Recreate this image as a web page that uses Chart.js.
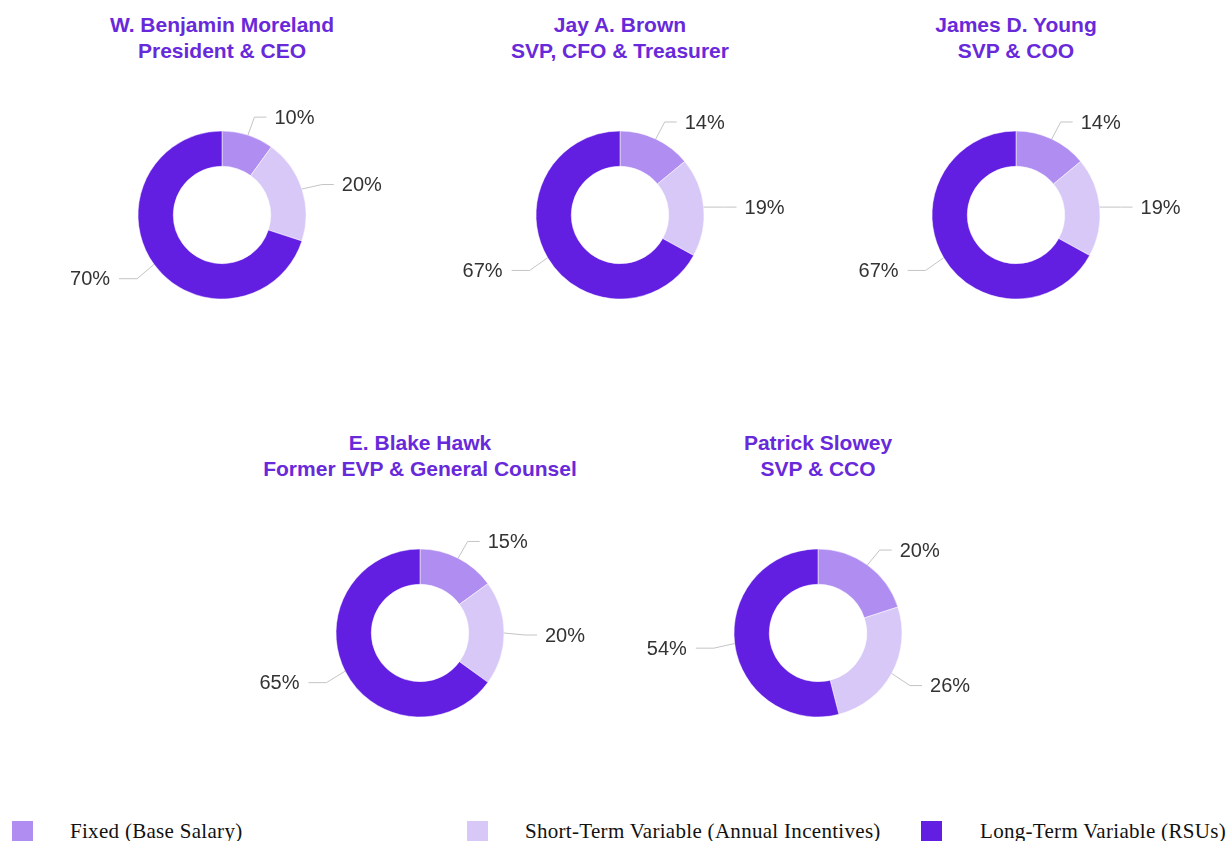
<!DOCTYPE html>
<html>
<head>
<meta charset="utf-8">
<script src="https://cdn.jsdelivr.net/npm/chart.js@4.4.1/dist/chart.umd.min.js"></script>
<style>
    html, body { margin: 0; padding: 0; background: #fff; }
    body { width: 1232px; height: 841px; position: relative; overflow: hidden; }
    .title {
        position: absolute; width: 420px; text-align: center;
        font-family: "Liberation Sans", Arial, sans-serif; font-weight: bold;
        font-size: 21px; line-height: 26px; color: #6829da;
    }
    canvas { position: absolute; }
    .legend-box { position: absolute; width: 21px; height: 21px; top: 821px; }
    .legend-text {
        position: absolute; top: 819px; white-space: nowrap; letter-spacing: 0.3px;
        font-family: "Liberation Serif", "Times New Roman", serif; font-size: 21px; color: #111;
    }
</style>
</head>
<body>
<script>
// Data
const categories = ['Fixed (Base Salary)', 'Short-Term Variable (Annual Incentives)', 'Long-Term Variable (RSUs)'];
const executives = ['W. Benjamin Moreland', 'Jay A. Brown', 'James D. Young', 'E. Blake Hawk', 'Patrick Slowey'];
const roles = ['President & CEO', 'SVP, CFO & Treasurer', 'SVP & COO', 'Former EVP & General Counsel', 'SVP & CCO'];
const fixedPct = [10, 14, 14, 15, 20];
const shortTermPct = [20, 19, 19, 20, 26];
const longTermPct = [70, 67, 67, 65, 54];

const colors = ['#b08ef1', '#d7c8f7', '#621fe1'];

// chart centres on the page
const layout = [
    { x: 222, y: 215 }, { x: 620, y: 215 }, { x: 1016, y: 215 },
    { x: 420, y: 633 }, { x: 818, y: 633 }
];

// leader lines + percentage labels outside the ring
const outsideLabels = {
    id: 'outsideLabels',
    afterDatasetsDraw(chart) {
        const ctx = chart.ctx;
        const meta = chart.getDatasetMeta(0);
        const values = chart.data.datasets[0].data;
        ctx.save();
        ctx.font = '20px "Liberation Sans", Arial, sans-serif';
        ctx.textBaseline = 'middle';
        meta.data.forEach((arc, i) => {
            const mid = (arc.startAngle + arc.endAngle) / 2;
            const r = arc.outerRadius;
            const dx = Math.cos(mid), dy = Math.sin(mid);
            const sx = arc.x + dx * r, sy = arc.y + dy * r;
            const ex = arc.x + dx * r * 1.25, ey = arc.y + dy * r * 1.25 + 2;
            const right = dx >= 0;
            const hx = right ? ex + 12 : ex - 18;
            ctx.strokeStyle = '#c4c4c4';
            ctx.lineWidth = 1;
            ctx.beginPath();
            ctx.moveTo(sx, sy);
            ctx.lineTo(ex, ey);
            ctx.lineTo(hx, ey);
            ctx.stroke();
            ctx.fillStyle = '#333333';
            ctx.textAlign = right ? 'left' : 'right';
            ctx.fillText(values[i] + '%', right ? ex + 20 : ex - 27, ey + 1);
        });
        ctx.restore();
    }
};

executives.forEach((name, i) => {
    const pos = layout[i];

    const title = document.createElement('div');
    title.className = 'title';
    title.style.left = (pos.x - 210) + 'px';
    title.style.top = (pos.y - 203) + 'px';
    title.innerHTML = name + '<br>' + roles[i].replace(/&/g, '&amp;');
    document.body.appendChild(title);

    const canvas = document.createElement('canvas');
    canvas.width = 400;
    canvas.height = 280;
    canvas.style.left = (pos.x - 200) + 'px';
    canvas.style.top = (pos.y - 140) + 'px';
    document.body.appendChild(canvas);

    new Chart(canvas.getContext('2d'), {
        type: 'doughnut',
        data: {
            labels: categories,
            datasets: [{
                data: [fixedPct[i], shortTermPct[i], longTermPct[i]],
                backgroundColor: colors,
                borderColor: '#ffffff',
                borderWidth: 0.5
            }]
        },
        options: {
            responsive: false,
            animation: false,
            radius: 84,
            cutout: '58%',
            plugins: {
                legend: { display: false },
                tooltip: { enabled: false }
            }
        },
        plugins: [outsideLabels]
    });
});

// legend row at the bottom
const legendPos = [
    { box: 12, text: 70 },
    { box: 467, text: 525 },
    { box: 921, text: 980 }
];
categories.forEach((cat, i) => {
    const box = document.createElement('div');
    box.className = 'legend-box';
    box.style.left = legendPos[i].box + 'px';
    box.style.background = colors[i];
    document.body.appendChild(box);

    const txt = document.createElement('div');
    txt.className = 'legend-text';
    txt.style.left = legendPos[i].text + 'px';
    txt.textContent = cat;
    document.body.appendChild(txt);
});
</script>
</body>
</html>
